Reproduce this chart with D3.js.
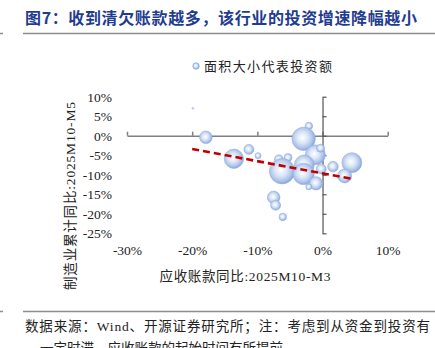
<!DOCTYPE html>
<html><head><meta charset="utf-8">
<script src="https://cdn.jsdelivr.net/npm/d3@7/dist/d3.min.js"></script>
<style>body{margin:0;background:#fff}svg{display:block}</style>
</head><body>
<svg id="c" width="435" height="348"></svg>
<script>
// Data
const receivableYoY = [-19.9,-17.9,-13.6,-11.3,-9.9,-2.1,-2.9,-1.1,-0.3,-6.7,-5.3,-6.2,-2.8,-2.9,-1.0,-2.1,-0.2,1.6,4.5,3.4,-7.5,-7.2,-6.1];
const investYoY    = [7.0,-0.4,-5.9,-3.5,-5.1,2.5,-0.8,-4.9,-3.2,-6.0,-5.6,-9.1,-7.5,-9.8,-12.2,-13.1,-8.5,-7.9,-6.9,-10.3,-15.8,-17.8,-20.8];
const investAmount = [0.3,40,94,25,9,14,137,100,16,19,16,161,100,114,45,9,25,28,100,49,40,25,14];
const trendX = [-20,4.7];
const trendY = [-3.4,-11.1];
const xTicks = [-30,-20,-10,0,10];
const yTicks = [10,5,0,-5,-10,-15,-20,-25];

const svg = d3.select("#c");
const x = d3.scaleLinear().domain([-30,10]).range([127,387.7]);
const y = d3.scaleLinear().domain([-25,10]).range([233.3,96.7]);
const r = d3.scaleSqrt().domain([0,200]).range([0,14.1]);
const serif = "'Liberation Serif','Noto Sans CJK SC',serif";
const cjk = "'Noto Sans CJK SC',sans-serif";

// gradient
const defs = svg.append("defs");
const g = defs.append("radialGradient").attr("id","bub").attr("cx","45%").attr("cy","45%").attr("r","55%");
g.append("stop").attr("offset","0%").attr("stop-color","#ffffff");
g.append("stop").attr("offset","45%").attr("stop-color","#d9e4f6");
g.append("stop").attr("offset","80%").attr("stop-color","#adc3e9");
g.append("stop").attr("offset","100%").attr("stop-color","#88a8dd");

// title
svg.append("text").attr("x",25).attr("y",24).attr("font-family",cjk).attr("font-weight","bold")
  .attr("font-size",16).attr("fill","#1f3c8f").attr("textLength",392).attr("lengthAdjust","spacing")
  .text("图7：收到清欠账款越多，该行业的投资增速降幅越小");
svg.append("line").attr("x1",23).attr("x2",435).attr("y1",33.5).attr("y2",33.5).attr("stroke","#8c8c8c").attr("stroke-width",1.5);
svg.append("line").attr("x1",0).attr("x2",3).attr("y1",33.5).attr("y2",33.5).attr("stroke","#8c8c8c").attr("stroke-width",1.5);

// legend
svg.append("circle").attr("cx",196).attr("cy",66).attr("r",3.2).attr("fill","url(#bub)").attr("stroke","#8eaadb").attr("stroke-width",0.8);
svg.append("text").attr("x",204).attr("y",71).attr("font-family",cjk).attr("font-size",13).attr("fill","#222")
  .attr("textLength",128).attr("lengthAdjust","spacing").text("面积大小代表投资额");

// axes lines with ticks
const xa = svg.append("g").attr("transform",`translate(0,${y(0)})`)
  .call(d3.axisTop(x).tickValues(xTicks).tickSize(4).tickSizeOuter(0).tickFormat(""));
xa.selectAll("path,line").attr("stroke","#7f7f7f").attr("stroke-width",1.5);
const ya = svg.append("g").attr("transform",`translate(${x(0)},0)`)
  .call(d3.axisRight(y).tickValues(yTicks).tickSize(4).tickSizeOuter(0).tickFormat(""));
ya.selectAll("path,line").attr("stroke","#555").attr("stroke-width",1.2);

// tick labels (low position)
const xl = svg.append("g").attr("transform","translate(0,242)")
  .call(d3.axisBottom(x).tickValues(xTicks).tickSize(0).tickFormat(d=>d+"%"));
xl.select(".domain").remove();
xl.selectAll("text").attr("font-family",serif).attr("font-size",13.5).attr("fill","#222");
const yl = svg.append("g").attr("transform","translate(115,0)")
  .call(d3.axisLeft(y).tickValues(yTicks).tickSize(0).tickFormat(d=>d+"%"));
yl.select(".domain").remove();
yl.selectAll("text").attr("font-family",serif).attr("font-size",13.5).attr("fill","#222");

// bubbles
const data = receivableYoY.map((v,i)=>({x:v,y:investYoY[i],s:investAmount[i]}));
svg.append("g").selectAll("circle").data(data).join("circle")
  .attr("cx",d=>x(d.x)).attr("cy",d=>y(d.y)).attr("r",d=>Math.max(r(d.s),0.8))
  .attr("fill","url(#bub)").attr("stroke","#94b0de").attr("stroke-width",0.6);

// trend line
svg.append("line").attr("x1",x(trendX[0])).attr("y1",y(trendY[0])).attr("x2",x(trendX[1])).attr("y2",y(trendY[1]))
  .attr("stroke","#c00000").attr("stroke-width",2.6).attr("stroke-dasharray","7,4");

// axis titles
svg.append("text").attr("x",245).attr("y",281).attr("text-anchor","middle").attr("font-family",serif)
  .attr("font-size",13.5).attr("fill","#222").attr("textLength",171).attr("lengthAdjust","spacing")
  .text("应收账款同比:2025M10-M3");
svg.append("text").attr("transform","translate(75,196) rotate(-90)").attr("text-anchor","middle").attr("font-family",serif)
  .attr("font-size",13.5).attr("fill","#222").attr("textLength",188).attr("lengthAdjust","spacing")
  .text("制造业累计同比:2025M10-M5");

// footer
svg.append("line").attr("x1",23).attr("x2",435).attr("y1",311.5).attr("y2",311.5).attr("stroke","#8c8c8c").attr("stroke-width",1.5);
svg.append("line").attr("x1",0).attr("x2",3).attr("y1",311.5).attr("y2",311.5).attr("stroke","#8c8c8c").attr("stroke-width",1.5);
svg.append("text").attr("x",25).attr("y",331).attr("font-family",serif).attr("font-size",13.5).attr("fill","#222")
  .attr("textLength",405).attr("lengthAdjust","spacing").text("数据来源：Wind、开源证券研究所；注：考虑到从资金到投资有");
svg.append("text").attr("x",40).attr("y",353).attr("font-family",serif).attr("font-size",13.5).attr("fill","#222")
  .text("一定时滞，应收账款的起始时间有所提前");
</script>
</body></html>
